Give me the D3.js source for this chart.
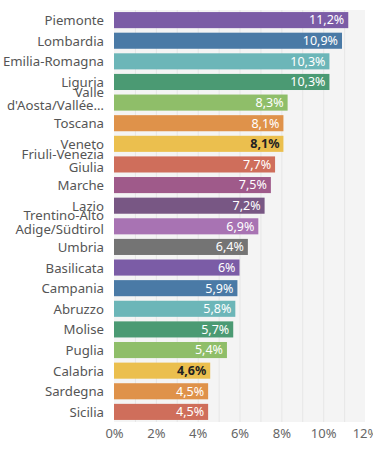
<!DOCTYPE html>
<html lang="it">
<head>
<meta charset="UTF-8">
<title>Regioni</title>
<script src="https://d3js.org/d3.v7.min.js"></script>
<style>
  body { margin: 0; background: #fff; font-family: "Noto Sans", sans-serif; }
  svg text { font-family: "Noto Sans", sans-serif; }
</style>
</head>
<body>
<div id="chart"></div>
<script>
// data
const regions = ["Piemonte", "Lombardia", "Emilia-Romagna", "Liguria", "Valle d'Aosta/Vallée…",
  "Toscana", "Veneto", "Friuli-Venezia Giulia", "Marche", "Lazio", "Trentino-Alto Adige/Südtirol",
  "Umbria", "Basilicata", "Campania", "Abruzzo", "Molise", "Puglia", "Calabria", "Sardegna", "Sicilia"];
const labelLines = [["Piemonte"], ["Lombardia"], ["Emilia-Romagna"], ["Liguria"], ["Valle", "d'Aosta/Vallée…"],
  ["Toscana"], ["Veneto"], ["Friuli-Venezia", "Giulia"], ["Marche"], ["Lazio"], ["Trentino-Alto", "Adige/Südtirol"],
  ["Umbria"], ["Basilicata"], ["Campania"], ["Abruzzo"], ["Molise"], ["Puglia"], ["Calabria"], ["Sardegna"], ["Sicilia"]];
const values = [11.2, 10.9, 10.3, 10.3, 8.3, 8.1, 8.1, 7.7, 7.5, 7.2, 6.9, 6.4, 6, 5.9, 5.8, 5.7, 5.4, 4.6, 4.5, 4.5];
const colors = ["#7b5ca6", "#4a7aa6", "#6cb6b8", "#4b9a73", "#8fbe69", "#df924a", "#ebbf4e", "#cf6e5b",
  "#9f5a8a", "#785784", "#a873b3", "#747474", "#7b5ca6", "#4a7aa6", "#6cb6b8", "#4b9a73", "#8fbe69",
  "#ebbf4e", "#df924a", "#cf6e5b"];
const darkLabel = ["Veneto", "Calabria"];
const xTicks = [0, 2, 4, 6, 8, 10, 12];

const width = 373, height = 450;
const margin = { top: 10, right: 8, bottom: 28, left: 114 };

const svg = d3.select("#chart").append("svg")
  .attr("width", width)
  .attr("height", height);

const x = d3.scaleLinear()
  .domain([0, 12])
  .range([margin.left, width - margin.right]);

const y = d3.scaleBand()
  .domain(regions)
  .range([margin.top, height - margin.bottom])
  .paddingInner(0.22)
  .paddingOuter(0.1);

// background + grid
svg.append("rect")
  .attr("x", x(0))
  .attr("y", margin.top)
  .attr("width", x(12) - x(0))
  .attr("height", height - margin.bottom - margin.top)
  .attr("fill", "#f4f4f4");

svg.append("g")
  .selectAll("line")
  .data(d3.range(1, 12))
  .join("line")
  .attr("x1", d => x(d) + 0.5)
  .attr("x2", d => x(d) + 0.5)
  .attr("y1", margin.top)
  .attr("y2", height - margin.bottom)
  .attr("stroke", "#e6e6e6");

// bars
svg.append("g")
  .selectAll("rect")
  .data(regions)
  .join("rect")
  .attr("x", x(0))
  .attr("y", d => y(d))
  .attr("width", (d, i) => x(values[i]) - x(0))
  .attr("height", y.bandwidth())
  .attr("fill", (d, i) => colors[i]);

// value labels
svg.append("g")
  .selectAll("text")
  .data(regions)
  .join("text")
  .attr("x", (d, i) => x(values[i]) - 4)
  .attr("y", d => y(d) + y.bandwidth() / 2)
  .attr("dy", "0.35em")
  .attr("text-anchor", "end")
  .attr("font-size", 12.5)
  .attr("font-weight", d => darkLabel.includes(d) ? 700 : 400)
  .attr("fill", d => darkLabel.includes(d) ? "#222" : "#fff")
  .text((d, i) => String(values[i]).replace(".", ",") + "%");

// category labels
const cat = svg.append("g")
  .selectAll("text")
  .data(regions)
  .join("text")
  .attr("x", margin.left - 10)
  .attr("y", d => y(d) + y.bandwidth() / 2)
  .attr("text-anchor", "end")
  .attr("font-size", 13.2)
  .attr("fill", "#555");

cat.each(function(d, i) {
  const lines = labelLines[i];
  const t = d3.select(this);
  const start = lines.length > 1 ? -0.45 : 0.38;
  lines.forEach((l, j) => {
    t.append("tspan")
      .attr("x", margin.left - 10)
      .attr("dy", j === 0 ? start + "em" : "1em")
      .text(l);
  });
});

// x axis
const xAxis = svg.append("g")
  .attr("transform", `translate(0,${height - margin.bottom})`)
  .call(d3.axisBottom(x).tickValues(xTicks).tickFormat(d => d + "%").tickSize(0).tickPadding(7));
xAxis.select(".domain").remove();
xAxis.selectAll("text")
  .attr("font-size", 13)
  .attr("fill", "#666");
</script>
</body>
</html>
